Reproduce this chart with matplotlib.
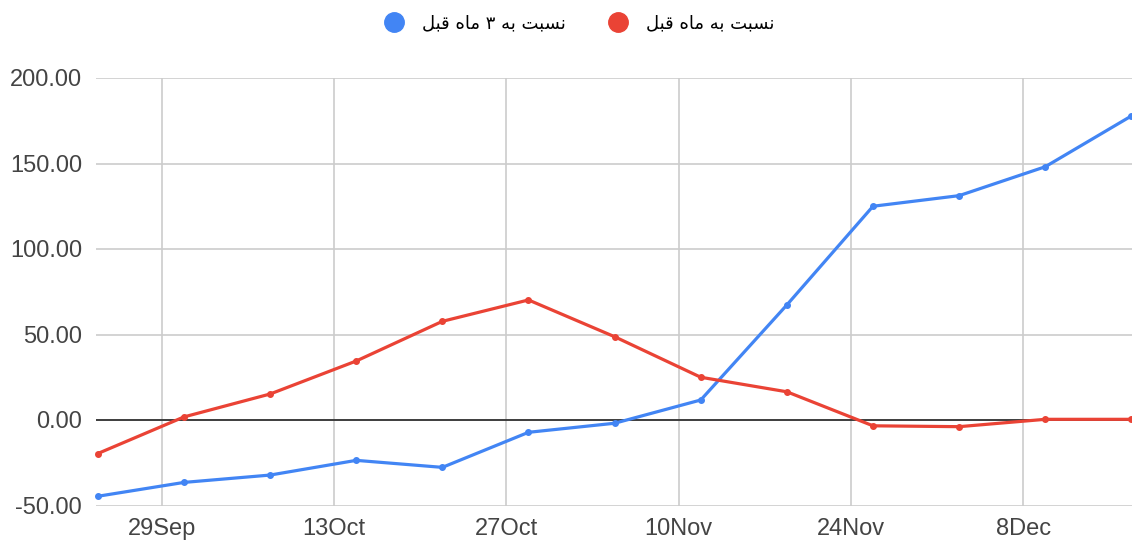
import matplotlib
matplotlib.use("Agg")
import matplotlib.pyplot as plt
import matplotlib.dates as mdates
from matplotlib.lines import Line2D
import numpy as np
from datetime import date, timedelta

# weekly dates and values
dates = [date(2023, 9, 24) + timedelta(days=7 * i) for i in range(13)]
three_month = [-44.6, -36.5, -32.2, -23.6, -27.7, -7.2, -1.9, 11.7, 67.3, 125.0, 131.2, 148.1, 177.8]
one_month = [-19.6, 1.8, 15.2, 34.5, 57.7, 70.2, 48.7, 25.0, 16.5, -3.4, -3.9, 0.4, 0.4]

tick_dates = [date(2023, 9, 29), date(2023, 10, 13), date(2023, 10, 27),
              date(2023, 11, 10), date(2023, 11, 24), date(2023, 12, 8)]
tick_labels = ["29Sep", "13Oct", "27Oct", "10Nov", "24Nov", "8Dec"]
y_ticks = [-50, 0, 50, 100, 150, 200]

label_3m = "نسبت به ۳ ماه قبل"
label_1m = "نسبت به ماه قبل"

BLUE = "#4285F4"
RED = "#EA4335"

# ---- tiny arabic shaper (matplotlib has no complex text layout) ----
FORMS = {  # isolated, final, initial, medial
    "ب": ("\uFE8F", "\uFE90", "\uFE91", "\uFE92"),
    "ت": ("\uFE95", "\uFE96", "\uFE97", "\uFE98"),
    "س": ("\uFEB1", "\uFEB2", "\uFEB3", "\uFEB4"),
    "ق": ("\uFED5", "\uFED6", "\uFED7", "\uFED8"),
    "ل": ("\uFEDD", "\uFEDE", "\uFEDF", "\uFEE0"),
    "م": ("\uFEE1", "\uFEE2", "\uFEE3", "\uFEE4"),
    "ن": ("\uFEE5", "\uFEE6", "\uFEE7", "\uFEE8"),
    "ه": ("\uFEE9", "\uFEEA", "\uFEEB", "\uFEEC"),
    "ا": ("\uFE8D", "\uFE8E", "\uFE8D", "\uFE8E"),
}
RIGHT_ONLY = {"ا"}


def shape(s):
    out = []
    for i, c in enumerate(s):
        if c not in FORMS:
            out.append(c)
            continue
        prev = s[i - 1] if i > 0 else ""
        nxt = s[i + 1] if i + 1 < len(s) else ""
        jp = prev in FORMS and prev not in RIGHT_ONLY
        jn = nxt in FORMS and c not in RIGHT_ONLY
        if jp and jn:
            out.append(FORMS[c][3])
        elif jp:
            out.append(FORMS[c][1])
        elif jn:
            out.append(FORMS[c][2])
        else:
            out.append(FORMS[c][0])
    return "".join(out)[::-1]


plt.rcParams['font.family'] = ['Liberation Sans', 'DejaVu Sans']

fig = plt.figure(figsize=(11.32, 5.42), dpi=100)
ax = fig.add_axes([96 / 1132, 1 - 505.5 / 542, 1036 / 1132, (505.5 - 78) / 542])

x = mdates.date2num(dates)
ax.plot(x, three_month, color=BLUE, lw=2.3, marker='o', ms=4, clip_on=False, zorder=4)
ax.plot(x, one_month, color=RED, lw=2.3, marker='o', ms=4, clip_on=False, zorder=4)

ax.axhline(0, color="#333333", lw=1.3, zorder=3)

ax.set_ylim(-50, 200)
ax.set_xlim(x[0] - 0.15, x[-1] + 0.05)
ax.set_yticks(y_ticks)
ax.set_yticklabels([f"{v:.2f}" for v in y_ticks])
ax.set_xticks(mdates.date2num(tick_dates) + 0.2)
ax.set_xticklabels(tick_labels)

ax.grid(True, color="#cccccc", lw=1.2)
ax.set_axisbelow(True)
for sp in ax.spines.values():
    sp.set_visible(False)
ax.tick_params(length=0, labelsize=17, colors="#444444")
ax.tick_params(axis='y', pad=10)
ax.tick_params(axis='x', pad=9)

handles = [Line2D([], [], ls='none', marker='o', ms=14, color=BLUE),
           Line2D([], [], ls='none', marker='o', ms=14, color=RED)]
fig.legend(handles, [shape(label_3m), shape(label_1m)], loc='center',
           bbox_to_anchor=(575 / 1132, 1 - 23 / 542), ncol=2, frameon=False,
           handletextpad=0.55, columnspacing=1.9,
           prop={'family': ['DejaVu Sans'], 'size': 13})

fig.savefig("out.png", dpi=100)
